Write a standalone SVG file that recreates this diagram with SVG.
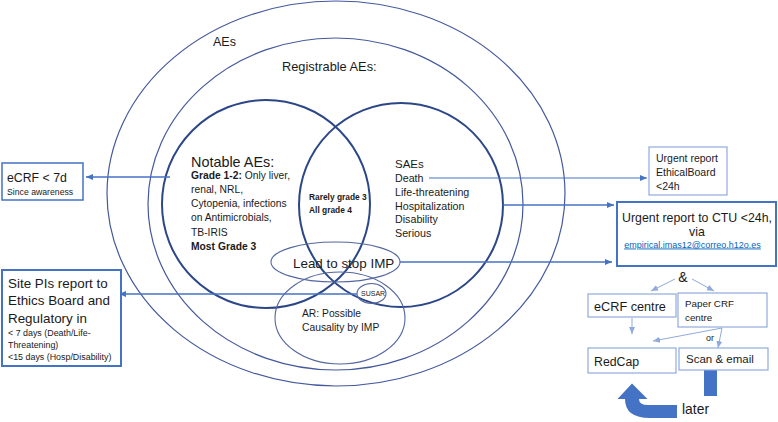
<svg xmlns="http://www.w3.org/2000/svg" width="778" height="422" viewBox="0 0 778 422">
<style>
text{font-family:"Liberation Sans",Arial,sans-serif;fill:#1a1a1a}
.b{font-weight:bold}
.outer{fill:none;stroke:#44599c;stroke-width:1.2}
.main{fill:none;stroke:#2c4787;stroke-width:2}
.thin{fill:none;stroke:#53679f;stroke-width:1.1}
.box1{fill:#fff;stroke:#4472c4;stroke-width:2}
.box2{fill:#fff;stroke:#4472c4;stroke-width:1.5}
.box3{fill:#fff;stroke:#8faadc;stroke-width:1.2}
.c1{fill:none;stroke:#4472c4;stroke-width:1.6}
.c2{fill:none;stroke:#4472c4;stroke-width:1}
.c3{fill:none;stroke:#8faadc;stroke-width:1}
</style>
<defs>
<marker id="ah" markerUnits="userSpaceOnUse" markerWidth="8" markerHeight="8" viewBox="0 0 8 8" refX="7" refY="4" orient="auto">
<path d="M0,1 L7,4 L0,7 Z" fill="#4472c4"/>
</marker>
<marker id="ahl" markerUnits="userSpaceOnUse" markerWidth="8" markerHeight="8" viewBox="0 0 8 8" refX="7" refY="4" orient="auto">
<path d="M0,1 L7,4 L0,7 Z" fill="#8faadc"/>
</marker>
</defs>
<rect width="778" height="422" fill="#fff"/>

<g id="aes">
<ellipse class="outer" cx="336" cy="193.5" rx="229" ry="192.5"/>
<text x="213" y="45.5" font-size="12.5">AEs</text>
</g>
<g id="registrable">
<ellipse class="outer" cx="335.5" cy="204" rx="187.5" ry="166"/>
<text x="282" y="70.5" font-size="12.8">Registrable AEs:</text>
</g>
<g id="notable">
<circle class="main" cx="266" cy="204" r="104"/>
<text x="191" y="167" font-size="14.4">Notable AEs:</text>
<text font-size="10.3"><tspan x="191" y="178.5" class="b">Grade 1-2:</tspan><tspan> Only liver,</tspan><tspan x="191" y="192.5">renal, NRL,</tspan><tspan x="191" y="206.5">Cytopenia, infections</tspan><tspan x="191" y="221">on Antimicrobials,</tspan><tspan x="191" y="235.5">TB-IRIS</tspan><tspan x="191" y="250" class="b">Most Grade 3</tspan></text>
</g>
<g id="saes">
<circle class="main" cx="401" cy="205" r="102"/>
<text x="395" y="167.5" font-size="11.5">SAEs</text>
<text font-size="10.7"><tspan x="395" y="182">Death</tspan><tspan x="395" y="196">Life-threatening</tspan><tspan x="395" y="209.5">Hospitalization</tspan><tspan x="395" y="223">Disability</tspan><tspan x="395" y="237">Serious</tspan></text>
</g>
<g id="overlap">
<text class="b" font-size="8.4"><tspan x="309" y="200">Rarely grade 3</tspan><tspan x="309" y="212.5">All grade 4</tspan></text>
</g>
<g id="leadstop">
<ellipse class="thin" cx="335.5" cy="262" rx="64.5" ry="20"/>
<text x="293" y="268" font-size="13.4">Lead to stop IMP</text>
</g>
<g id="ar">
<ellipse class="thin" cx="340" cy="318" rx="65" ry="46"/>
<text font-size="10.3"><tspan x="302" y="317">AR: Possible</tspan><tspan x="302" y="331">Causality by IMP</tspan></text>
</g>
<g id="susar">
<ellipse class="thin" cx="371.5" cy="293.5" rx="14.5" ry="10"/>
<text x="361" y="296" font-size="7">SUSAR</text>
</g>

<g id="connectors">
<line class="c1" x1="170" y1="177" x2="86" y2="177" marker-end="url(#ah)"/>
<line class="c2" x1="429" y1="178" x2="647" y2="178" marker-end="url(#ah)"/>
<line class="c1" x1="503" y1="205" x2="614" y2="205" marker-end="url(#ah)"/>
<line class="c1" x1="400" y1="262" x2="612" y2="262" marker-end="url(#ah)"/>
<line class="c1" x1="357" y1="294" x2="119" y2="294" marker-end="url(#ah)"/>
<line class="c3" x1="675" y1="279" x2="651" y2="291" marker-end="url(#ahl)"/>
<line class="c3" x1="692" y1="279" x2="714" y2="291" marker-end="url(#ahl)"/>
<line class="c3" x1="632" y1="318" x2="632" y2="334" marker-end="url(#ahl)"/>
<line class="c3" x1="722" y1="328" x2="653" y2="341" marker-end="url(#ahl)"/>
<line class="c3" x1="722" y1="328" x2="718" y2="348" marker-end="url(#ahl)"/>
<text x="706" y="340.5" font-size="9">or</text>
<path d="M704,370 L717,370 L717,418 L650,418 Q625,418 625,399 L617.5,399 L632,383.5 L647.5,399 L639,399 Q639,405 648,405 L704,405 Z" fill="#4472c4"/>
<rect x="677" y="396" width="45" height="26" fill="#fff"/>
<text x="682" y="414" font-size="13.9">later</text>
</g>

<g id="ecrf7d">
<rect class="box2" x="2" y="163" width="81" height="37"/>
<text x="7" y="181.5" font-size="12.3">eCRF &lt; 7d</text>
<text x="7" y="194.5" font-size="8.7">Since awareness</text>
</g>
<g id="sitepis">
<rect class="box1" x="2" y="270" width="119" height="96"/>
<text font-size="13.4"><tspan x="8" y="288">Site PIs report to</tspan><tspan x="8" y="305">Ethics Board and</tspan><tspan x="8" y="323">Regulatory in</tspan></text>
<text font-size="8.9"><tspan x="8" y="336">&lt; 7 days (Death/Life-</tspan><tspan x="8" y="348">Threatening)</tspan><tspan x="8" y="360">&lt;15 days (Hosp/Disability)</tspan></text>
</g>
<g id="ethicalboard">
<rect class="box3" x="649" y="147" width="78" height="48"/>
<text font-size="10.5"><tspan x="656" y="162">Urgent report</tspan><tspan x="656" y="176">EthicalBoard</tspan><tspan x="656" y="190">&lt;24h</tspan></text>
</g>
<g id="ctu">
<rect class="box1" x="617" y="202" width="159" height="64"/>
<text x="697" y="221.5" font-size="12.35" text-anchor="middle">Urgent report to CTU &lt;24h,</text>
<text x="697" y="235.5" font-size="12.35" text-anchor="middle">via</text>
<text x="692.5" y="247.5" font-size="9" text-anchor="middle" style="fill:#0563c1" text-decoration="underline">empirical.imas12@correo.h12o.es</text>
</g>
<g id="amp">
<text x="683" y="282" font-size="14" text-anchor="middle">&amp;</text>
</g>
<g id="ecrfcentre">
<rect class="box3" x="588" y="294" width="88" height="23"/>
<text x="594" y="310.5" font-size="12.7">eCRF centre</text>
</g>
<g id="papercrf">
<rect class="box3" x="678" y="293" width="89" height="34"/>
<text font-size="9.8"><tspan x="685" y="306.5">Paper CRF</tspan><tspan x="685" y="320.5">centre</tspan></text>
</g>
<g id="redcap">
<rect class="box3" x="588" y="348" width="88" height="25"/>
<text x="594" y="365.5" font-size="12.3">RedCap</text>
</g>
<g id="scanemail">
<rect class="box3" x="679" y="348" width="89" height="22"/>
<text x="686" y="363" font-size="11.5">Scan &amp; email</text>
</g>
</svg>
